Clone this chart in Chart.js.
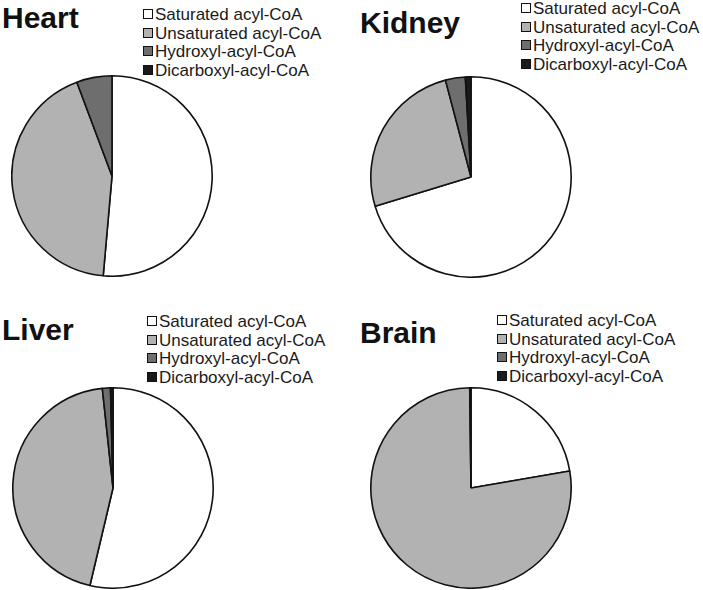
<!DOCTYPE html>
<html lang="en">
<head>
  <meta charset="UTF-8">
  <title>Acyl-CoA composition by tissue</title>
  <script src="https://cdn.jsdelivr.net/npm/chart.js"></script>
  <style>
    body {
      margin: 0;
      width: 703px;
      height: 590px;
      background: #ffffff;
      font-family: 'Liberation Sans', Arial, sans-serif;
      position: relative;
      overflow: hidden;
    }
    .pie {
      position: absolute;
      width: 202px;
      height: 202px;
    }
    .title {
      position: absolute;
      font-weight: bold;
      font-size: 30px;
      line-height: 30px;
      color: #111;
    }
    .legend {
      position: absolute;
      margin: 0;
      padding: 0;
      list-style: none;
      font-size: 17px;
      color: #1a1a1a;
    }
    .legend li {
      height: 18.7px;
      line-height: 18.7px;
      white-space: nowrap;
    }
    .legend span {
      display: inline-block;
      width: 8px;
      height: 8px;
      border: 1px solid #111;
      margin-right: 2px;
      vertical-align: 1px;
    }
  </style>
</head>
<body>
  <div class="title" style="left:2px; top:3px;">Heart</div>
  <div class="title" style="left:360px; top:8px;">Kidney</div>
  <div class="title" style="left:2px; top:315px;">Liver</div>
  <div class="title" style="left:360px; top:318px;">Brain</div>

  <ul class="legend" id="legend-heart" style="left:143px; top:6px;"></ul>
  <ul class="legend" id="legend-kidney" style="left:521px; top:0px;"></ul>
  <ul class="legend" id="legend-liver" style="left:147px; top:313px;"></ul>
  <ul class="legend" id="legend-brain" style="left:497px; top:312px;"></ul>

  <div class="pie" style="left:11px; top:75px;"><canvas id="pie-heart"></canvas></div>
  <div class="pie" style="left:369.5px; top:76px;"><canvas id="pie-kidney"></canvas></div>
  <div class="pie" style="left:11.5px; top:386.5px;"><canvas id="pie-liver"></canvas></div>
  <div class="pie" style="left:369.5px; top:386.5px;"><canvas id="pie-brain"></canvas></div>

  <script>
    const categories = ['Saturated acyl-CoA', 'Unsaturated acyl-CoA', 'Hydroxyl-acyl-CoA', 'Dicarboxyl-acyl-CoA'];
    const sliceColors = ['#ffffff', '#b2b2b2', '#6e6e6e', '#1a1a1a'];

    // percent of total (clockwise from 12 o'clock)
    const heart = [51.4, 42.9, 5.7, 0];
    const kidney = [70.3, 25.6, 3.2, 0.9];
    const liver = [53.7, 44.6, 1.3, 0.4];
    const brain = [22.3, 77.5, 0, 0.2];

    function makePie(id, values) {
      const ctx = document.getElementById('pie-' + id).getContext('2d');
      const chart = new Chart(ctx, {
        type: 'pie',
        data: {
          labels: categories,
          datasets: [{
            data: values,
            backgroundColor: sliceColors,
            borderColor: '#111111',
            borderWidth: 1.6
          }]
        },
        options: {
          responsive: true,
          maintainAspectRatio: false,
          animation: false,
          layout: { padding: 0 },
          plugins: {
            legend: { display: false },
            tooltip: { enabled: false }
          }
        }
      });

      // html legend built from the chart's own labels
      const items = chart.options.plugins.legend.labels.generateLabels(chart);
      const ul = document.getElementById('legend-' + id);
      items.forEach(item => {
        const li = document.createElement('li');
        const box = document.createElement('span');
        box.style.background = item.fillStyle;
        li.appendChild(box);
        li.appendChild(document.createTextNode(item.text));
        ul.appendChild(li);
      });
    }

    makePie('heart', heart);
    makePie('kidney', kidney);
    makePie('liver', liver);
    makePie('brain', brain);
  </script>
</body>
</html>
